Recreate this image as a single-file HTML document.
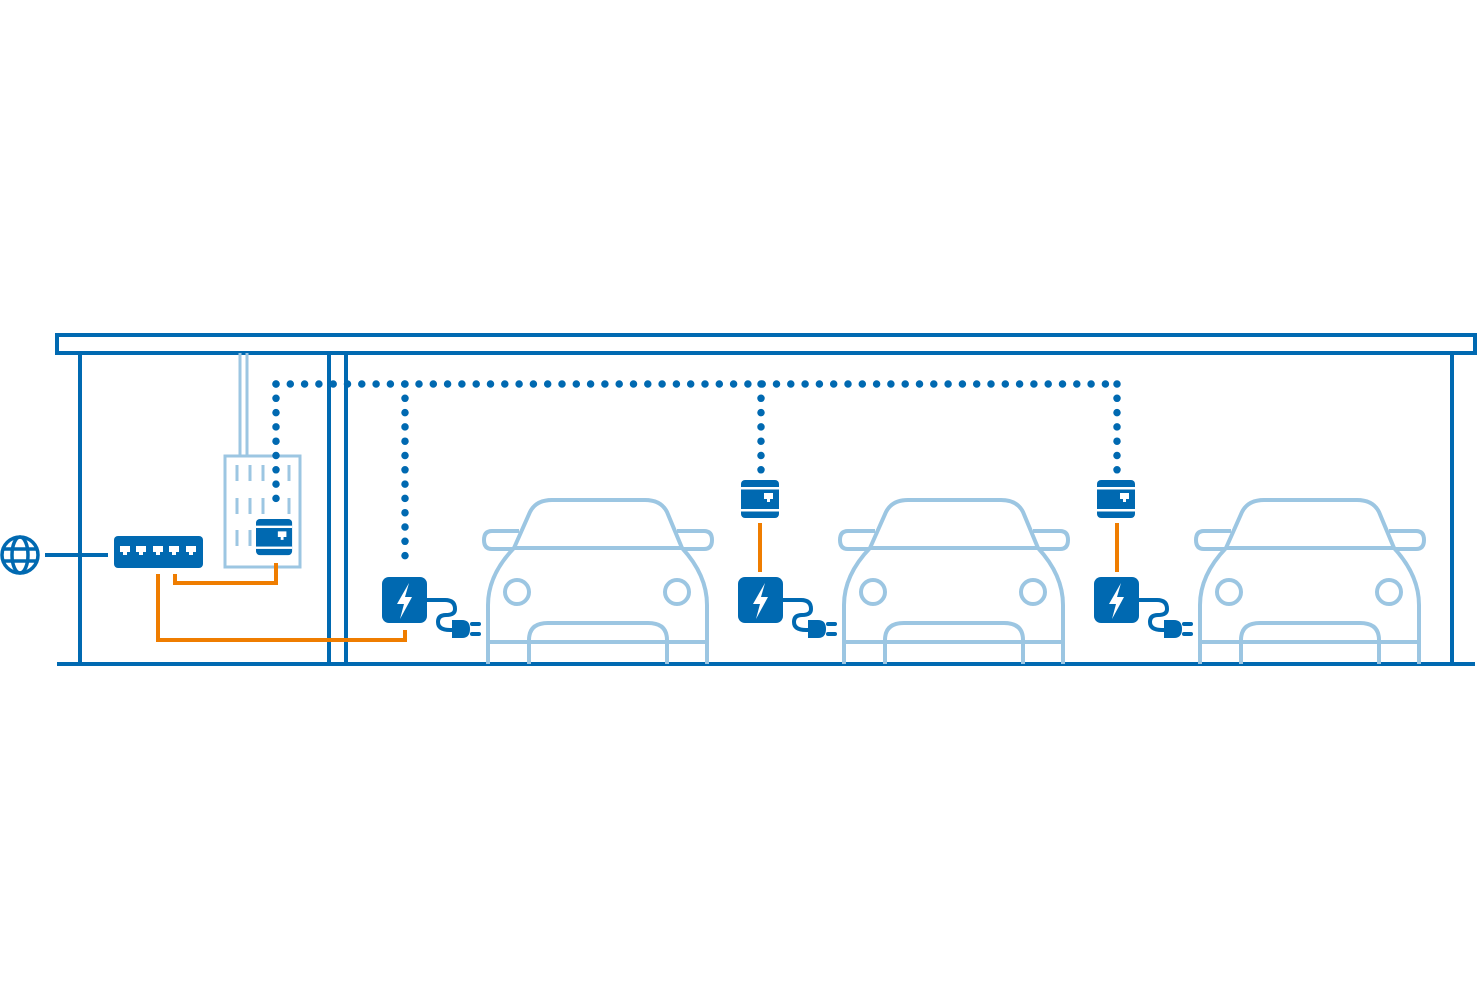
<!DOCTYPE html>
<html><head><meta charset="utf-8"><style>html,body{margin:0;padding:0;background:#fff;}svg{display:block}</style></head>
<body>
<svg width="1478" height="1000" viewBox="0 0 1478 1000" xmlns="http://www.w3.org/2000/svg">
<defs>
<g id="car" fill="none" stroke="#9cc6e2" stroke-width="4">
  <path d="M514 548 L530 512 Q536 500 552 500 L645 500 Q661 500 667 512 L682 548 Z"/>
  <path d="M519 531 L492 531 Q484 531 484 540 Q484 549 492 549 L514 549"/>
  <path d="M677 531 L704 531 Q712 531 712 540 Q712 549 704 549 L682 549"/>
  <path d="M514 548 Q488 575 488 605 L488 664 M682 548 Q707 575 707 605 L707 664"/>
  <circle cx="517" cy="592" r="12"/>
  <circle cx="677" cy="592" r="12"/>
  <path d="M529 664 L529 640 Q529 623 548 623 L648 623 Q667 623 667 640 L667 664"/>
  <line x1="488" y1="642" x2="707" y2="642"/>
</g>
<g id="charger">
  <rect x="382" y="577" width="45" height="46" rx="7" fill="#0069b1"/>
  <path d="M409 583 L397 604 L404 604 L400 619 L412 597 L405 597 Z" fill="#fff"/>
  <path d="M427 600 L445 600 Q455 600 455 609 Q455 615 446 615 Q438 615 438 622 Q438 630 450 630 L454 630" fill="none" stroke="#0069b1" stroke-width="4"/>
  <path d="M452 620 L462 620 Q470 620 470 629 Q470 638 462 638 L452 638 Z" fill="#0069b1"/>
  <rect x="470" y="622" width="11" height="4" rx="2" fill="#0069b1"/>
  <rect x="470" y="632" width="11" height="4" rx="2" fill="#0069b1"/>
</g>
<g id="dev">
  <rect x="0" y="0" width="38" height="38" rx="4" fill="#0069b1"/>
  <rect x="0" y="7" width="38" height="2.5" fill="#fff"/>
  <rect x="0" y="29" width="38" height="2.5" fill="#fff"/>
  <path d="M23 13 L32 13 L32 19 L29 19 L29 22 L26 22 L26 19 L23 19 Z" fill="#fff"/>
</g>
</defs>

<rect x="57" y="335" width="1418" height="18" fill="none" stroke="#0069b1" stroke-width="4"/>
<g stroke="#0069b1" stroke-width="4">
<line x1="80" y1="353" x2="80" y2="664"/>
<line x1="1452" y1="353" x2="1452" y2="664"/>
<line x1="329" y1="353" x2="329" y2="664"/>
<line x1="346" y1="353" x2="346" y2="664"/>
<line x1="57" y1="664" x2="1475" y2="664"/>
</g>

<g stroke="#9cc6e2" stroke-width="3" fill="none">
<line x1="240" y1="353" x2="240" y2="456"/>
<line x1="247" y1="353" x2="247" y2="456"/>
<rect x="225" y="456" width="75" height="111"/>
</g>
<g stroke="#9cc6e2" stroke-width="3">
<line x1="237" y1="465" x2="237" y2="481"/><line x1="250" y1="465" x2="250" y2="481"/><line x1="263" y1="465" x2="263" y2="481"/><line x1="289" y1="465" x2="289" y2="481"/>
<line x1="237" y1="498" x2="237" y2="514"/><line x1="250" y1="498" x2="250" y2="514"/><line x1="263" y1="498" x2="263" y2="514"/><line x1="289" y1="498" x2="289" y2="514"/>
<line x1="237" y1="530" x2="237" y2="546"/><line x1="250" y1="530" x2="250" y2="546"/>
</g>
<use href="#dev" transform="translate(256,519) scale(0.95)"/>

<g fill="none" stroke="#0069b1" stroke-width="3.5">
<circle cx="20" cy="555" r="18"/>
<ellipse cx="20" cy="555" rx="8" ry="18"/>
<line x1="2" y1="549" x2="38" y2="549"/>
<line x1="2" y1="561" x2="38" y2="561"/>
</g>
<line x1="45" y1="555" x2="108" y2="555" stroke="#0069b1" stroke-width="4"/>

<rect x="114" y="536" width="89" height="32" rx="4" fill="#0069b1"/>
<g fill="#fff">
<path d="M120 546 h10 v6 h-3 v3 h-4 v-3 h-3z"/>
<path d="M136 546 h10 v6 h-3 v3 h-4 v-3 h-3z"/>
<path d="M153 546 h10 v6 h-3 v3 h-4 v-3 h-3z"/>
<path d="M169 546 h10 v6 h-3 v3 h-4 v-3 h-3z"/>
<path d="M186 546 h10 v6 h-3 v3 h-4 v-3 h-3z"/>
</g>

<g fill="none" stroke="#ef7d00" stroke-width="4">
<path d="M175 574 L175 583 L276 583 L276 563"/>
<path d="M158 574 L158 640 L405 640 L405 630"/>
<line x1="760" y1="523" x2="760" y2="572"/>
<line x1="1117" y1="523" x2="1117" y2="572"/>
</g>

<g fill="none" stroke="#0069b1" stroke-width="7.5" stroke-linecap="round" stroke-dasharray="0 14.3">
<line x1="276" y1="384" x2="1117" y2="384"/>
<line x1="276" y1="384" x2="276" y2="512"/>
<line x1="405" y1="384" x2="405" y2="566"/>
<line x1="761" y1="384" x2="761" y2="470"/>
<line x1="1117" y1="384" x2="1117" y2="470"/>
</g>

<use href="#dev" x="741" y="480"/>
<use href="#dev" x="1097" y="480"/>

<use href="#car"/>
<use href="#car" x="356"/>
<use href="#car" x="712"/>

<use href="#charger"/>
<use href="#charger" x="356"/>
<use href="#charger" x="712"/>
</svg>
</body></html>
